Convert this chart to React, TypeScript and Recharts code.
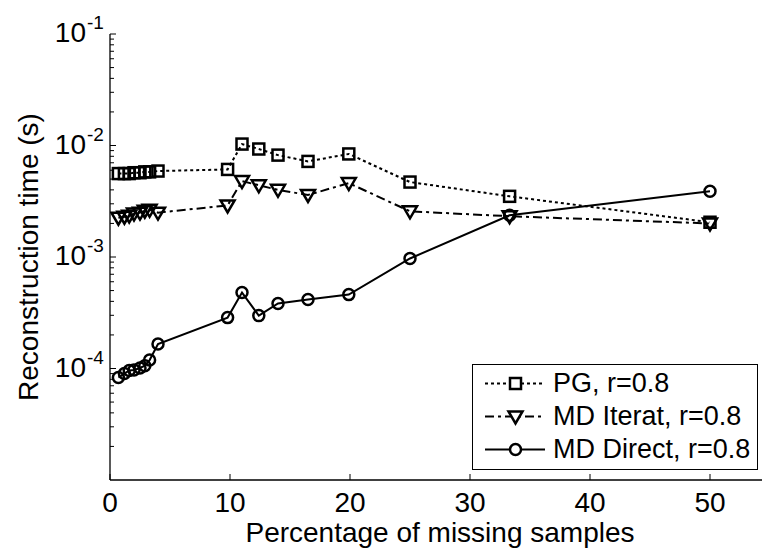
import { LineChart, Line, XAxis, YAxis, Legend } from "recharts";

// percentage of missing samples
const missingPct = [0.7, 1.2, 1.6, 2.0, 2.5, 2.9, 3.3, 4.0, 9.8, 11.0, 12.4, 14.0, 16.5, 19.9, 25, 33.3, 50];

// reconstruction times (s)
const pgTimes = [5.6e-3, 5.6e-3, 5.6e-3, 5.7e-3, 5.7e-3, 5.8e-3, 5.8e-3, 5.9e-3, 6.1e-3, 1.03e-2, 9.3e-3, 8.2e-3, 7.2e-3, 8.4e-3, 4.7e-3, 3.5e-3, 2.05e-3];
const mdIteratTimes = [2.25e-3, 2.3e-3, 2.35e-3, 2.45e-3, 2.5e-3, 2.6e-3, 2.65e-3, 2.5e-3, 2.9e-3, 4.8e-3, 4.4e-3, 4.0e-3, 3.6e-3, 4.6e-3, 2.57e-3, 2.32e-3, 2.0e-3];
const mdDirectTimes = [8.3e-5, 9.0e-5, 9.6e-5, 9.7e-5, 1.01e-4, 1.06e-4, 1.19e-4, 1.66e-4, 2.86e-4, 4.8e-4, 2.98e-4, 3.83e-4, 4.16e-4, 4.6e-4, 9.7e-4, 2.37e-3, 3.89e-3];

const xTicks = [0, 10, 20, 30, 40, 50];
const yMajorTicks = [1e-4, 1e-3, 1e-2, 1e-1];
const yMinorMultipliers = [2, 3, 4, 5, 6, 7, 8, 9];
const yDecades = [1e-5, 1e-4, 1e-3, 1e-2];

const seriesNames = ["PG, r=0.8", "MD Iterat, r=0.8", "MD Direct, r=0.8"];

const data = missingPct.map((x, i) => ({
  x,
  pg: pgTimes[i],
  iter: mdIteratTimes[i],
  direct: mdDirectTimes[i],
}));

const yTicks = [
  ...yDecades.flatMap((d) => yMinorMultipliers.map((m) => d * m)),
  ...yMajorTicks,
];

const FONT = '"Liberation Sans", Arial, sans-serif';
const PLOT_LEFT = 110;
const PLOT_TOP = 34;
const PLOT_BOTTOM = 480;

const isMajor = (v: number) => {
  const l = Math.log10(v);
  return Math.abs(l - Math.round(l)) < 1e-6;
};

const YTick = (props: any) => {
  const { y, payload } = props;
  const v = payload.value;
  const major = isMajor(v);
  const exp = Math.round(Math.log10(v));
  return (
    <g>
      <line x1={PLOT_LEFT} x2={PLOT_LEFT + (major ? 6 : 4)} y1={y} y2={y} stroke="#000" strokeWidth={1} />
      {major && (
        <text x={86} y={y + 8} textAnchor="end" fontFamily={FONT} fontSize={28} fill="#000">
          10
        </text>
      )}
      {major && (
        <text x={87} y={y - 5} textAnchor="start" fontFamily={FONT} fontSize={19} fill="#000">
          {exp}
        </text>
      )}
    </g>
  );
};

const XTick = (props: any) => {
  const { x, payload } = props;
  return (
    <g>
      <line x1={x} x2={x} y1={PLOT_BOTTOM} y2={PLOT_BOTTOM - 6} stroke="#000" strokeWidth={1} />
      <text x={x} y={512} textAnchor="middle" fontFamily={FONT} fontSize={28} fill="#000">
        {payload.value}
      </text>
    </g>
  );
};

const TopTick = (props: any) => {
  const { x, payload } = props;
  if (payload.value === 0) return <g />;
  return <line x1={x} x2={x} y1={PLOT_TOP} y2={PLOT_TOP + 6} stroke="#000" strokeWidth={1} />;
};

const SquareDot = (props: any) => {
  const { cx, cy, index } = props;
  if (cx == null || cy == null) return <g key={index} />;
  return <rect key={index} x={cx - 5.5} y={cy - 5.5} width={11} height={11} fill="none" stroke="#000" strokeWidth={2.5} />;
};

const TriangleDot = (props: any) => {
  const { cx, cy, index } = props;
  if (cx == null || cy == null) return <g key={index} />;
  return (
    <polygon
      key={index}
      points={`${cx - 7},${cy - 5} ${cx + 7},${cy - 5} ${cx},${cy + 7}`}
      fill="none"
      stroke="#000"
      strokeWidth={2.5}
    />
  );
};

const CircleDot = (props: any) => {
  const { cx, cy, index } = props;
  if (cx == null || cy == null) return <g key={index} />;
  return <circle key={index} cx={cx} cy={cy} r={5.5} fill="none" stroke="#000" strokeWidth={2.5} />;
};

const legendStyles = [
  { dash: "3 3", marker: "square" },
  { dash: "9 4 3 4", marker: "triangle" },
  { dash: undefined, marker: "circle" },
];

const LegendBox = () => (
  <div
    style={{
      width: 286,
      height: 106,
      border: "1.5px solid #000",
      background: "#fff",
      boxSizing: "border-box",
      paddingTop: 2,
    }}
  >
    {seriesNames.map((name, i) => {
      const st = legendStyles[i];
      return (
        <div key={name} style={{ display: "flex", alignItems: "center", height: 33 }}>
          <svg width={80} height={33} style={{ flex: "none" }}>
            <line x1={12} x2={72} y1={16.5} y2={16.5} stroke="#000" strokeWidth={2} strokeDasharray={st.dash} />
            {st.marker === "square" && <rect x={37} y={11} width={11} height={11} fill="#fff" stroke="#000" strokeWidth={2.5} />}
            {st.marker === "triangle" && (
              <polygon points="35.5,11.5 49.5,11.5 42.5,23.5" fill="#fff" stroke="#000" strokeWidth={2.5} />
            )}
            {st.marker === "circle" && <circle cx={42.5} cy={16.5} r={5.5} fill="#fff" stroke="#000" strokeWidth={2.5} />}
          </svg>
          <span style={{ fontFamily: FONT, fontSize: 27, color: "#000", whiteSpace: "nowrap" }}>{name}</span>
        </div>
      );
    })}
  </div>
);

export default function App() {
  return (
    <div style={{ position: "absolute", left: 0, top: 0, width: 762, height: 551, overflow: "hidden", background: "#fff" }}>
      <LineChart width={770} height={551} data={data} margin={{ top: PLOT_TOP, right: 0, bottom: 0, left: 0 }}>
        <XAxis
          dataKey="x"
          type="number"
          domain={[0, 55]}
          ticks={xTicks}
          allowDataOverflow
          height={551 - PLOT_BOTTOM}
          tickLine={false}
          axisLine={{ stroke: "#000", strokeWidth: 1.3 }}
          tick={<XTick />}
          interval={0}
        />
        <XAxis
          xAxisId="top"
          dataKey="x"
          type="number"
          orientation="top"
          domain={[0, 55]}
          ticks={xTicks}
          allowDataOverflow
          height={0}
          tickLine={false}
          axisLine={{ stroke: "#000", strokeWidth: 1.3 }}
          tick={<TopTick />}
          interval={0}
        />
        <YAxis
          type="number"
          scale="log"
          domain={[1e-5, 1e-1]}
          ticks={yTicks}
          allowDataOverflow
          width={PLOT_LEFT}
          tickLine={false}
          axisLine={{ stroke: "#000", strokeWidth: 1.3 }}
          tick={<YTick />}
          interval={0}
          label={{
            value: "Reconstruction time (s)",
            angle: -90,
            position: "insideLeft",
            offset: 0,
            style: { fontFamily: FONT, fontSize: 28, fill: "#000", textAnchor: "middle" },
            dx: 28,
          }}
        />
        <Line
          dataKey="pg"
          name={seriesNames[0]}
          stroke="#000"
          strokeWidth={2}
          strokeDasharray="3 3"
          dot={SquareDot}
          activeDot={false}
          isAnimationActive={false}
        />
        <Line
          dataKey="iter"
          name={seriesNames[1]}
          stroke="#000"
          strokeWidth={2}
          strokeDasharray="9 4 3 4"
          dot={TriangleDot}
          activeDot={false}
          isAnimationActive={false}
        />
        <Line
          dataKey="direct"
          name={seriesNames[2]}
          stroke="#000"
          strokeWidth={2}
          dot={CircleDot}
          activeDot={false}
          isAnimationActive={false}
        />
        <Legend
          layout="vertical"
          align="center"
          verticalAlign="middle"
          content={<LegendBox />}
          wrapperStyle={{ position: "absolute", left: 472, top: 364, width: 286 }}
        />
      </LineChart>
      <div
        style={{
          position: "absolute",
          left: 0,
          top: 517,
          width: 880,
          textAlign: "center",
          fontFamily: FONT,
          fontSize: 28,
          color: "#000",
          lineHeight: "32px",
          pointerEvents: "none",
        }}
      >
        Percentage of missing samples
      </div>
    </div>
  );
}
